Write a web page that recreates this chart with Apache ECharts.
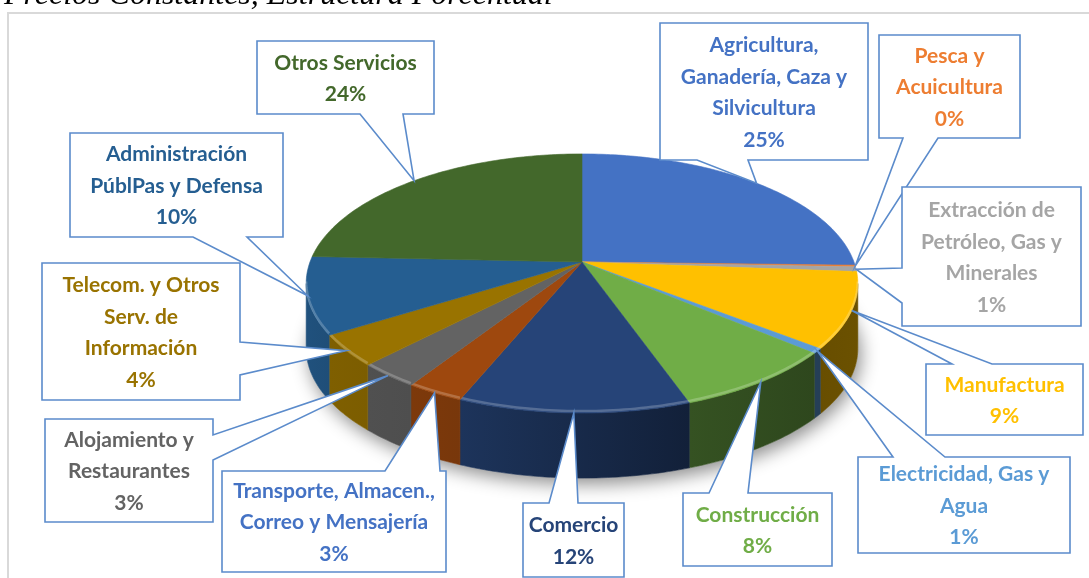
<!DOCTYPE html>
<html>
<head>
<meta charset="utf-8">
<script src="https://cdn.jsdelivr.net/npm/echarts@6/dist/echarts.min.js"></script>
<style>
html, body { margin: 0; padding: 0; background: #fff; }
#main { width: 1089px; height: 578px; }
</style>
</head>
<body>
<div id="main"></div>
<script>
var categories = ['Agricultura,\nGanadería, Caza y\nSilvicultura', 'Pesca y\nAcuicultura', 'Extracción de\nPetróleo, Gas y\nMinerales', 'Manufactura', 'Electricidad, Gas y\nAgua', 'Construcción', 'Comercio', 'Transporte, Almacen.,\nCorreo y Mensajería', 'Alojamiento y\nRestaurantes', 'Telecom. y Otros\nServ. de\nInformación', 'Administración\nPúblPas y Defensa', 'Otros Servicios'];
var values = [25.4, 0.2, 0.6, 9.4, 0.6, 8.4, 11.6, 2.9, 3.1, 3.9, 9.6, 24.3];

var colors = ['#4472C4', '#ED7D31', '#A5A5A5', '#FFC000', '#5B9BD5', '#70AD47', '#264478', '#9E480E', '#636363', '#997300', '#255E91', '#43682B'];
var labelColors = ['#4472C4', '#ED7D31', '#A5A5A5', '#FFC000', '#5B9BD5', '#70AD47', '#264478', '#4472C4', '#636363', '#997300', '#255E91', '#43682B'];

// callout boxes: [x1, y1, x2, y2], side of the pointer and where it leaves the box
var boxes = [[660, 23, 868, 160], [879, 35, 1020, 138], [902, 187, 1081, 326], [926, 364, 1083, 435], [858, 457, 1070, 553], [683, 493, 832, 566], [523, 503, 624, 577], [222, 471, 446, 572], [45, 419, 213, 522], [42, 263, 240, 400], [70, 133, 283, 237], [257, 41, 434, 114]];
var sides = ['bottom', 'bottom', 'left', 'top', 'top', 'top', 'top', 'top', 'right', 'right', 'bottom', 'bottom'];
var bases = [[697, 748], [903, 938], [268, 303], [952, 992], [893, 945], [709, 748], [549, 578], [385, 440], [435, 460], [342, 375], [193, 247], [360, 403]];

// 3d pie geometry (perspective view of a tilted disc)
var CX = 582, CY = 262, RX = 272, RY = 126, K = 0.166, DEPTH = 65;
var TMIN = Math.acos(-K) * 180 / Math.PI, TMAX = 360 - TMIN;

var total = 0;
values.forEach(function (v) { total += v; });
var starts = [], ends = [];
var acc = 0;
values.forEach(function (v) {
  starts.push(acc / total * 360);
  acc += v;
  ends.push(acc / total * 360);
});

function rim(deg, dy) {
  var t = deg * Math.PI / 180;
  var X = Math.sin(t), Z = -Math.cos(t), w = 1 - K * Z;
  return [CX + RX * X / w, CY + RY * Z / w + (dy || 0)];
}

function arc(s, e, dy) {
  var pts = [];
  var a = s;
  while (true) {
    if (a > e) a = e;
    pts.push(rim(a, dy));
    if (a === e) break;
    a += 1;
  }
  return pts;
}

function shade(hex, f) {
  var r = parseInt(hex.substr(1, 2), 16), g = parseInt(hex.substr(3, 2), 16), b = parseInt(hex.substr(5, 2), 16);
  return 'rgb(' + Math.round(r * f) + ',' + Math.round(g * f) + ',' + Math.round(b * f) + ')';
}

function wallF(deg) {
  var pts = [[100, 0.42], [150, 0.40], [205, 0.78], [260, 0.86]];
  for (var i = 1; i < pts.length; i++) {
    if (deg <= pts[i][0]) {
      var p = (deg - pts[i - 1][0]) / (pts[i][0] - pts[i - 1][0]);
      return pts[i - 1][1] + p * (pts[i][1] - pts[i - 1][1]);
    }
  }
  return 0.86;
}

var idx = values.map(function (v, i) { return [i]; });

function renderBase(params, api) {
  var pts = arc(0, 360, DEPTH);
  return {
    type: 'polygon',
    shape: { points: pts },
    style: { fill: '#ffffff', shadowBlur: 18, shadowColor: 'rgba(0,0,0,0.45)', shadowOffsetY: 6, shadowOffsetX: 3 }
  };
}

function renderWall(params, api) {
  var i = api.value(0);
  var s = Math.max(starts[i], TMIN), e = Math.min(ends[i], TMAX);
  if (e <= s) return { type: 'group', children: [] };
  var pts = arc(s, e).concat(arc(s, e, DEPTH).reverse());
  var grad = new echarts.graphic.LinearGradient(0, 0, 1, 0, [
    { offset: 0, color: shade(colors[i], wallF(e)) },
    { offset: 1, color: shade(colors[i], wallF(s)) }
  ]);
  return {
    type: 'polygon',
    shape: { points: pts },
    style: { fill: grad, stroke: grad, lineWidth: 0.6 }
  };
}

function renderTop(params, api) {
  var i = api.value(0);
  var pts = [[CX, CY]].concat(arc(starts[i], ends[i]));
  var children = [{
    type: 'polygon',
    shape: { points: pts },
    style: { fill: colors[i], stroke: colors[i], lineWidth: 0.6 }
  }];
  var s = Math.max(starts[i], TMIN), e = Math.min(ends[i], TMAX);
  if (e > s) {
    children.push({
      type: 'polyline',
      shape: { points: arc(s, e, -2) },
      style: { fill: null, stroke: 'rgba(255,255,255,0.22)', lineWidth: 2.5 }
    });
  }
  return { type: 'group', children: children };
}

function renderCallout(params, api) {
  var i = api.value(0);
  var b = boxes[i], side = sides[i], base = bases[i];
  var tip = rim((starts[i] + ends[i]) / 2);
  var x1 = b[0], y1 = b[1], x2 = b[2], y2 = b[3];
  var pts = [[x1, y1]];
  if (side === 'top') pts.push([base[0], y1], tip, [base[1], y1]);
  pts.push([x2, y1]);
  if (side === 'right') pts.push([x2, base[0]], tip, [x2, base[1]]);
  pts.push([x2, y2]);
  if (side === 'bottom') pts.push([base[1], y2], tip, [base[0], y2]);
  pts.push([x1, y2]);
  if (side === 'left') pts.push([x1, base[1]], tip, [x1, base[0]]);
  var pct = Math.round(values[i] / total * 100) + '%';
  return {
    type: 'group',
    children: [{
      type: 'polygon',
      shape: { points: pts },
      style: { fill: '#ffffff', stroke: '#5B8BCB', lineWidth: 1.6 }
    }, {
      type: 'text',
      x: (x1 + x2) / 2,
      y: (y1 + y2) / 2 + 1,
      style: {
        text: categories[i] + '\n' + pct,
        fill: labelColors[i],
        font: 'bold 21px Lato',
        lineHeight: 31.5,
        align: 'center',
        verticalAlign: 'middle'
      }
    }]
  };
}

var chart = echarts.init(document.getElementById('main'), null, { renderer: 'canvas' });
chart.setOption({
  backgroundColor: '#ffffff',
  animation: false,
  graphic: [{
    type: 'rect',
    shape: { x: 8, y: 13, width: 1100, height: 600 },
    style: { fill: null, stroke: '#d9d9d9', lineWidth: 2 },
    z: 0
  }, {
    type: 'text',
    x: 4,
    y: -4,
    style: {
      text: 'Precios Constantes, Estructura Porcentual',
      fontStyle: 'italic',
      fontSize: 32,
      fontFamily: 'Liberation Serif',
      fill: '#000000',
      verticalAlign: 'middle'
    },
    z: 0
  }],
  series: [{
    type: 'custom',
    coordinateSystem: 'none',
    z: 1,
    data: [[0]],
    renderItem: renderBase
  }, {
    type: 'custom',
    coordinateSystem: 'none',
    z: 2,
    data: idx,
    renderItem: renderWall
  }, {
    type: 'custom',
    coordinateSystem: 'none',
    z: 3,
    data: idx,
    renderItem: renderTop
  }, {
    type: 'custom',
    coordinateSystem: 'none',
    z: 4,
    data: idx,
    renderItem: renderCallout
  }]
});
</script>
</body>
</html>
